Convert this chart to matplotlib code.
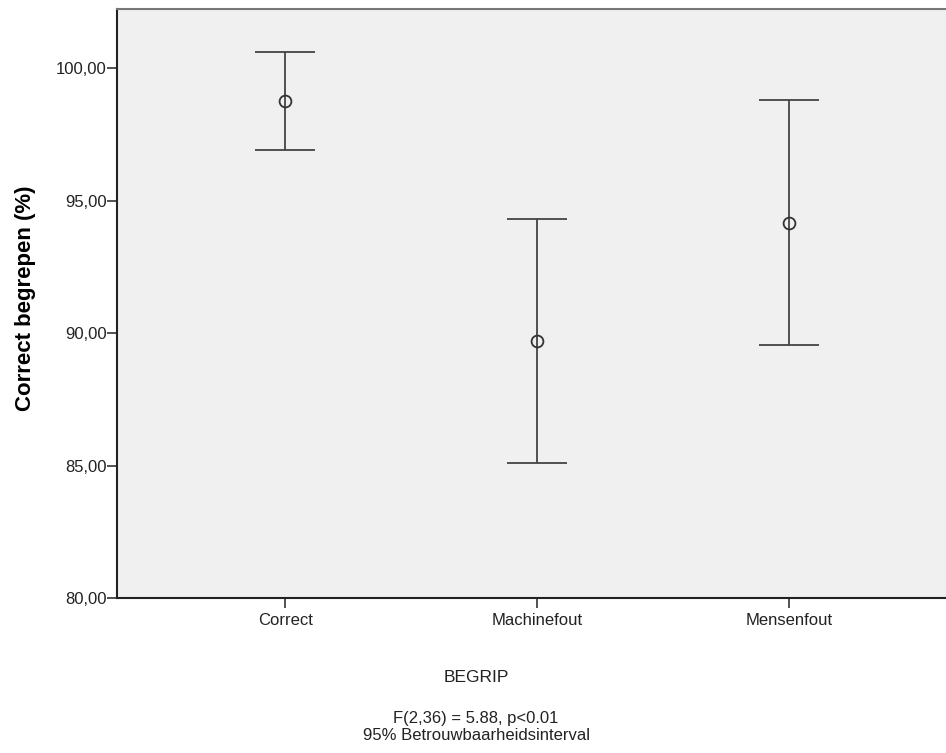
import matplotlib
matplotlib.use("Agg")
import matplotlib.pyplot as plt

categories = ["Correct", "Machinefout", "Mensenfout"]
means = [98.75, 89.70, 94.15]
lower = [96.91, 85.09, 89.55]
upper = [100.60, 94.30, 98.79]
yticks = [80, 85, 90, 95, 100]
ytick_labels = ["80,00", "85,00", "90,00", "95,00", "100,00"]

plt.rcParams['font.family'] = ['Liberation Sans', 'DejaVu Sans']

fig = plt.figure(figsize=(9.46, 7.53), dpi=100)
ax = fig.add_axes([117/946, 1-598/753, 1-117/946, (598-9)/753])
ax.set_facecolor("#f0f0f0")

x = list(range(len(categories)))
yerr = [[m - l for m, l in zip(means, lower)], [u - m for m, u in zip(means, upper)]]
ax.errorbar(x, means, yerr=yerr, fmt='o', mfc='none', mec='#333333', mew=1.3, ms=8.5,
            ecolor='#444444', elinewidth=1.3, capsize=21.5, capthick=1.3)

ax.set_xlim(-0.667, 2.623)
ax.set_ylim(80, 102.23)
ax.set_yticks(yticks)
ax.set_yticklabels(ytick_labels, fontsize=12)
ax.set_xticks(x)
ax.set_xticklabels(categories, fontsize=12)
ax.tick_params(axis='both', direction='out', length=7, width=1.1, color='#222222', labelcolor='#222222')
ax.tick_params(axis='x', pad=4)
ax.tick_params(axis='y', pad=0.5)

for s in ['left', 'bottom']:
    ax.spines[s].set_color('#222222')
    ax.spines[s].set_linewidth(1.5)
ax.spines['top'].set_color('#777777')
ax.spines['top'].set_linewidth(1.5)
ax.spines['right'].set_visible(False)

ax.set_ylabel("Correct begrepen (%)", fontsize=16, fontweight='bold', labelpad=0)
ax.yaxis.set_label_coords(-(117-36)/829, (753-298-155)/589)

fig.text(476/946, 1-678/753, "BEGRIP", ha='center', va='center', fontsize=12.5, color='#222222')
fig.text(476/946, 1-718/753, "F(2,36) = 5.88, p<0.01",
         ha='center', va='center', fontsize=12, color='#222222')
fig.text(476/946, 1-735/753, "95% Betrouwbaarheidsinterval",
         ha='center', va='center', fontsize=12, color='#222222')

fig.savefig("out.png", dpi=100)
